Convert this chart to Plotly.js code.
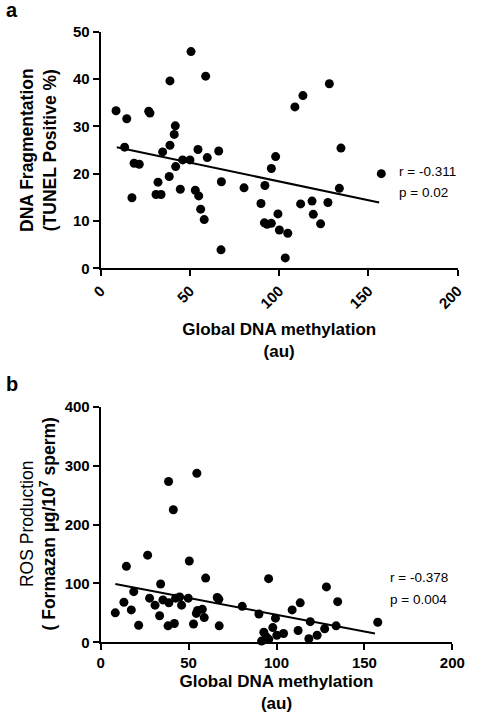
<!DOCTYPE html>
<html><head><meta charset="utf-8">
<script src="https://cdn.plot.ly/plotly-3.0.1.min.js"></script>
<style>html,body{margin:0;padding:0;background:#fff}</style>
</head><body><div id="chart" style="width:478px;height:720px"></div>
<script>
// Panel a: DNA fragmentation vs global DNA methylation
const tunelX = [8.6,14.6,13.4,26.9,27.6,18.7,21.6,17.5,38.8,50.6,58.8,41.8,41.2,38.8,34.7,42.0,45.9,50.0,54.5,59.7,66.1,67.6,38.4,32.1,31.0,33.8,44.6,53.0,54.9,56.0,58.0,67.4,
  80.3,92.0,95.6,98.0,89.8,99.3,91.7,93.2,95.6,100.1,104.8,103.4,108.8,113.3,128.1,134.6,112.0,118.4,119.1,123.2,127.3,133.7,157.2];
const tunelY = [33.3,31.6,25.6,33.2,32.8,22.2,22.0,14.9,39.6,45.8,40.6,30.1,28.3,26.0,24.6,21.5,22.9,22.9,25.1,23.4,24.8,18.3,19.4,18.2,15.6,15.6,16.7,16.5,15.3,12.5,10.3,3.9,
  17.0,17.5,21.1,23.6,13.7,11.5,9.6,9.3,9.5,8.1,7.4,2.2,34.1,36.5,39.0,25.4,13.6,14.2,11.4,9.4,13.9,16.9,20.0];
const fitAX = [9, 156];
const fitAY = [25.6, 13.9];

// Panel b: ROS production vs global DNA methylation
const rosX = [8.3,13.2,14.6,17.4,18.8,21.6,26.7,27.8,30.9,33.5,34.1,35.4,38.6,41.3,38.3,41.9,38.8,42.6,44.9,46.0,49.8,50.4,52.8,54.7,55.1,57.8,54.4,58.9,59.7,66.3,67.2,67.4,
  80.5,90.0,95.5,99.4,97.9,92.8,94.2,91.5,95.6,100.2,104.0,108.9,113.5,112.3,118.4,119.2,123.1,127.4,128.4,133.9,134.8,157.6];
const rosY = [50,68,129,55,86,29,148,75,63,45,99,72,273,225,28,32,67,75,77,63,75,138,31,287,54,56,49,42,109,76,73,28,
  61,48,108,41,25,17,9,2,5,12,15,55,67,20,6,35,12,23,94,28,69,34];
const fitBX = [8.3, 156];
const fitBY = [99, 15];

const xTicks = [0, 50, 100, 150, 200];
const xTickText = ['0', '50', '100', '150', '200'];
const yTicksA = [0, 10, 20, 30, 40, 50];
const yTicksB = [0, 100, 200, 300, 400];
const statsA = ['r = -0.311', 'p = 0.02'];
const statsB = ['r = -0.378', 'p = 0.004'];

const FONT = 'Liberation Sans, Arial, Helvetica, sans-serif';
const W = 478, H = 720;
const px = v => v / W;
const py = v => (H - v) / H;

const markerStyle = {color: '#000', size: 9};
const lineStyle = {color: '#000', width: 2};

const traces = [
  {x: tunelX, y: tunelY, type: 'scatter', mode: 'markers', marker: markerStyle, xaxis: 'x', yaxis: 'y', cliponaxis: false, hoverinfo: 'x+y'},
  {x: fitAX, y: fitAY, type: 'scatter', mode: 'lines', line: lineStyle, xaxis: 'x', yaxis: 'y', hoverinfo: 'skip'},
  {x: rosX, y: rosY, type: 'scatter', mode: 'markers', marker: markerStyle, xaxis: 'x2', yaxis: 'y2', cliponaxis: false, hoverinfo: 'x+y'},
  {x: fitBX, y: fitBY, type: 'scatter', mode: 'lines', line: lineStyle, xaxis: 'x2', yaxis: 'y2', hoverinfo: 'skip'}
];

const tickFont = {family: FONT, size: 15, color: '#000', weight: 700};
const titleFont = {family: FONT, size: 17, color: '#000', weight: 700};
const axisBase = {
  showline: true, linecolor: '#000', linewidth: 2,
  ticks: 'outside', ticklen: 6, tickwidth: 2, tickcolor: '#000',
  showgrid: false, zeroline: false, tickfont: tickFont, fixedrange: true
};

const layout = {
  width: W, height: H, autosize: false,
  margin: {l: 0, r: 0, t: 0, b: 0},
  paper_bgcolor: '#fff', plot_bgcolor: '#fff',
  showlegend: false,
  font: {family: FONT, color: '#000'},
  xaxis: Object.assign({}, axisBase, {
    domain: [px(100.7), px(457.7)], range: [0, 200], anchor: 'y',
    tickvals: xTicks, ticktext: xTickText, tickangle: -45,
    title: {text: 'Global DNA methylation<br>(au)', font: titleFont, standoff: 12}
  }),
  yaxis: Object.assign({}, axisBase, {
    domain: [py(268.3), py(31.7)], range: [0, 50], anchor: 'x',
    tickvals: yTicksA
  }),
  xaxis2: Object.assign({}, axisBase, {
    domain: [px(100.7), px(452.3)], range: [0, 200], anchor: 'y2',
    tickvals: xTicks, ticktext: xTickText, tickangle: 0,
    title: {text: 'Global DNA methylation<br>(au)', font: titleFont, standoff: 5}
  }),
  yaxis2: Object.assign({}, axisBase, {
    domain: [py(642.3), py(406.7)], range: [0, 400], anchor: 'x2',
    tickvals: yTicksB
  }),
  annotations: [
    {text: '<b>DNA Fragmentation</b><br><b>(TUNEL Positive %)</b>', xref: 'paper', yref: 'paper',
     x: px(38), y: py(150), xanchor: 'center', yanchor: 'middle', textangle: -90, showarrow: false,
     font: {family: FONT, size: 17.5, color: '#000'}},
    {text: 'ROS Production<br><b>( Formazan µg/10<sup>7</sup> sperm)</b>', xref: 'paper', yref: 'paper',
     x: px(38), y: py(524.5), xanchor: 'center', yanchor: 'middle', textangle: -90, showarrow: false,
     font: {family: FONT, size: 17.5, color: '#000'}},
    {text: '<b>a</b>', xref: 'paper', yref: 'paper', x: px(4), y: py(10), xanchor: 'left', yanchor: 'middle',
     showarrow: false, font: {family: FONT, size: 20, color: '#000'}},
    {text: '<b>b</b>', xref: 'paper', yref: 'paper', x: px(4), y: py(384), xanchor: 'left', yanchor: 'middle',
     showarrow: false, font: {family: FONT, size: 20, color: '#000'}},
    {text: statsA[0], xref: 'paper', yref: 'paper', x: px(397), y: py(171), xanchor: 'left', yanchor: 'middle',
     showarrow: false, font: {family: FONT, size: 13.5, color: '#000'}},
    {text: statsA[1], xref: 'paper', yref: 'paper', x: px(397), y: py(192), xanchor: 'left', yanchor: 'middle',
     showarrow: false, font: {family: FONT, size: 13.5, color: '#000'}},
    {text: statsB[0], xref: 'paper', yref: 'paper', x: px(388), y: py(577), xanchor: 'left', yanchor: 'middle',
     showarrow: false, font: {family: FONT, size: 13.5, color: '#000'}},
    {text: statsB[1], xref: 'paper', yref: 'paper', x: px(388), y: py(599), xanchor: 'left', yanchor: 'middle',
     showarrow: false, font: {family: FONT, size: 13.5, color: '#000'}}
  ]
};

Plotly.newPlot('chart', traces, layout, {displayModeBar: false, staticPlot: true});
</script>
</body></html>
